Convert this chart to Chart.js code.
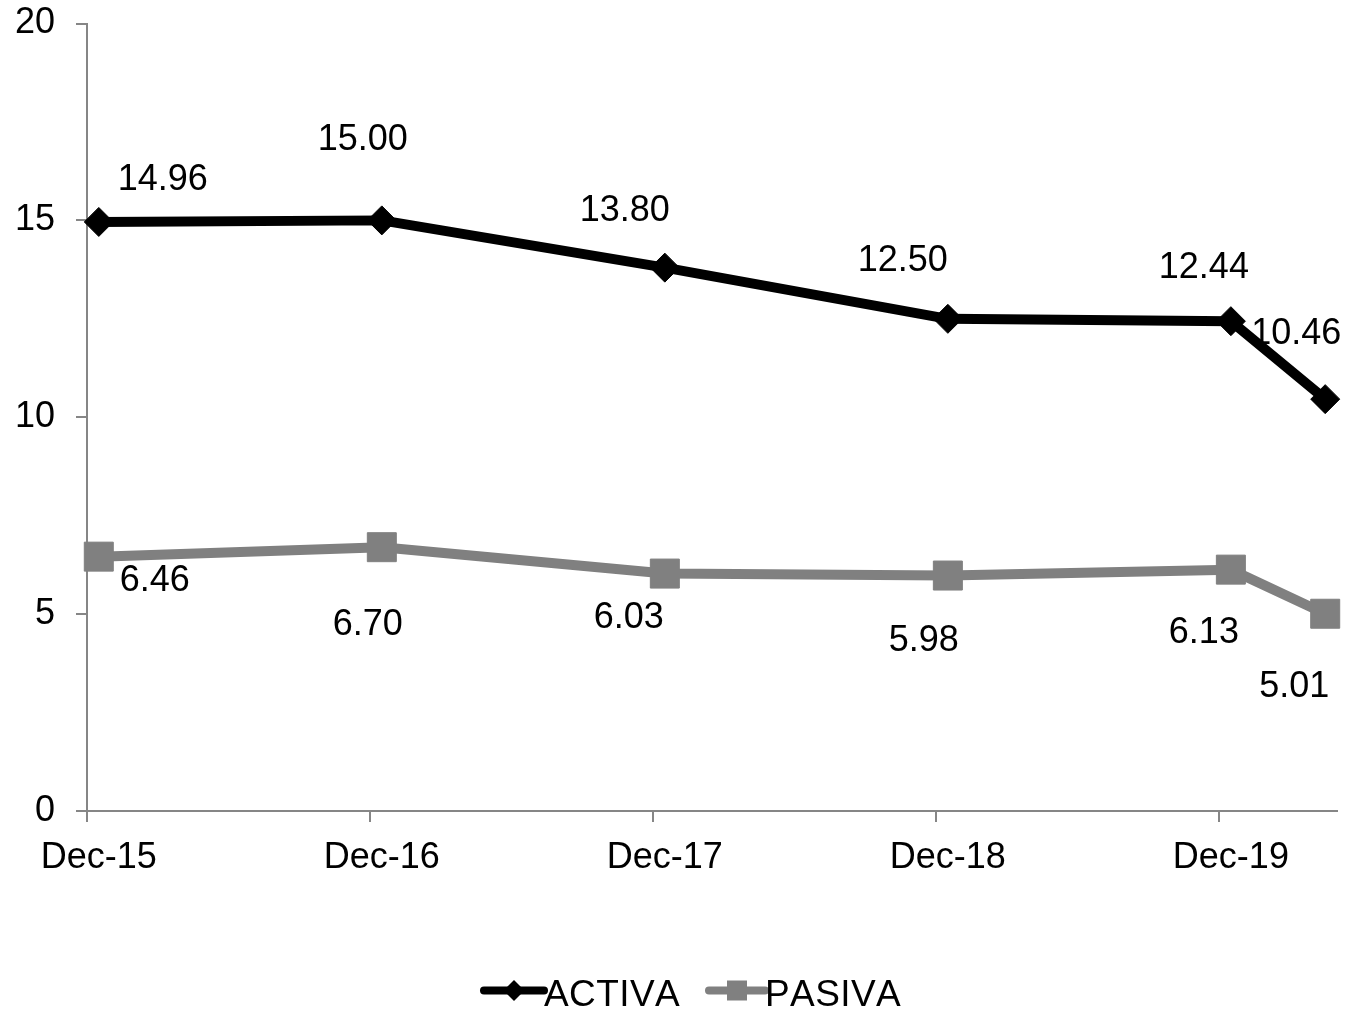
<!DOCTYPE html>
<html>
<head>
<meta charset="utf-8">
<title>ACTIVA / PASIVA</title>
<script src="https://cdn.jsdelivr.net/npm/chart.js@4/dist/chart.umd.min.js"></script>
<style>
  html, body { margin: 0; padding: 0; background: #ffffff; }
  #wrap { width: 1348px; height: 1011px; }
</style>
</head>
<body>
<div id="wrap"><canvas id="chart" width="1348" height="1011"></canvas></div>
<script>
// Observation dates (month-year) and rates
const categories = ['Dec-15', 'Dec-16', 'Dec-17', 'Dec-18', 'Dec-19', 'Apr-20'];
const activa = [14.96, 15.00, 13.80, 12.50, 12.44, 10.46];
const pasiva = [6.46, 6.70, 6.03, 5.98, 6.13, 5.01];
const axisTickLabels = ['Dec-15', 'Dec-16', 'Dec-17', 'Dec-18', 'Dec-19'];
const yTicks = [0, 5, 10, 15, 20];
const seriesNames = ['ACTIVA', 'PASIVA'];

// Value label placement (label centre relative to its point, px)
const activaLabelOffsets = [[64, -45], [-19, -83], [-40, -60], [-45, -61], [-27, -56], [-29, -68]];
const pasivaLabelOffsets = [[56, 21], [-14, 75], [-36, 41], [-24, 62], [-27, 60], [-31, 70]];

const FONT = '"Liberation Sans", Arial, sans-serif';
const AXIS_GREY = '#868686';
const PASIVA_GREY = '#808080';

const MONTHS = ['Jan','Feb','Mar','Apr','May','Jun','Jul','Aug','Sep','Oct','Nov','Dec'];
// months elapsed since Dec-15
function monthIndex(label) {
  const [m, yy] = label.split('-');
  return (parseInt(yy, 10) - 15) * 12 + MONTHS.indexOf(m) - 11;
}
const tickMonths = axisTickLabels.map(monthIndex);
const xMax = monthIndex(categories[categories.length - 1]) + 1;
// each value sits in the middle of its month
const toPoints = vals => vals.map((v, i) => ({ x: monthIndex(categories[i]) + 0.5, y: v }));

const valueLabels = {
  id: 'valueLabels',
  afterDatasetsDraw(chart) {
    const ctx = chart.ctx;
    const offsets = [activaLabelOffsets, pasivaLabelOffsets];
    ctx.save();
    ctx.font = '36px ' + FONT;
    ctx.fillStyle = '#000';
    ctx.textAlign = 'center';
    ctx.textBaseline = 'alphabetic';
    chart.data.datasets.forEach((ds, di) => {
      const meta = chart.getDatasetMeta(di);
      meta.data.forEach((pt, i) => {
        const txt = ds.data[i].y.toFixed(2);
        const m = ctx.measureText(txt);
        const [dx, dy] = offsets[di][i];
        const cy = pt.y + dy;
        const base = cy + (m.actualBoundingBoxAscent - m.actualBoundingBoxDescent) / 2;
        ctx.fillText(txt, pt.x + dx, base);
      });
    });
    ctx.restore();
  }
};

function drawDiamond(ctx, x, y, r) {
  ctx.beginPath();
  ctx.moveTo(x - r, y); ctx.lineTo(x, y - r); ctx.lineTo(x + r, y); ctx.lineTo(x, y + r);
  ctx.closePath(); ctx.fill();
}
function drawSquare(ctx, x, y, half) {
  ctx.fillRect(x - half, y - half, half * 2, half * 2);
}

const bottomLegend = {
  id: 'bottomLegend',
  afterDraw(chart) {
    const ctx = chart.ctx;
    const items = [
      { x0: 484, x1: 544, color: '#000', marker: 'diamond', textX: 544 },
      { x0: 709, x1: 765, color: PASIVA_GREY, marker: 'square', textX: 765 }
    ];
    const ly = 990.5;
    ctx.save();
    items.forEach((it, i) => {
      ctx.strokeStyle = it.color;
      ctx.fillStyle = it.color;
      ctx.lineWidth = 8;
      ctx.lineCap = 'round';
      ctx.beginPath();
      ctx.moveTo(it.x0, ly); ctx.lineTo(it.x1, ly);
      ctx.stroke();
      const mx = (it.x0 + it.x1) / 2;
      if (it.marker === 'diamond') drawDiamond(ctx, mx, ly, 10.5);
      else drawSquare(ctx, mx, ly, 10);
      ctx.font = '37px ' + FONT;
      ctx.fontKerning = 'none';
      if ('letterSpacing' in ctx) ctx.letterSpacing = '0.4px';
      ctx.fillStyle = '#000';
      ctx.textAlign = 'left';
      ctx.textBaseline = 'alphabetic';
      const m = ctx.measureText(seriesNames[i]);
      const base = 993 + (m.actualBoundingBoxAscent - m.actualBoundingBoxDescent) / 2;
      ctx.fillText(seriesNames[i], it.textX, base);
    });
    ctx.restore();
  }
};

new Chart(document.getElementById('chart'), {
  type: 'line',
  data: {
    datasets: [
      {
        label: seriesNames[0],
        data: toPoints(activa),
        borderColor: '#000',
        backgroundColor: '#000',
        borderWidth: 10,
        borderJoinStyle: 'round',
        pointStyle: 'rectRot',
        pointRadius: 14.5,
        pointBorderWidth: 1,
        pointBackgroundColor: '#000',
        pointBorderColor: '#000',
        tension: 0,
        clip: false
      },
      {
        label: seriesNames[1],
        data: toPoints(pasiva),
        borderColor: PASIVA_GREY,
        backgroundColor: PASIVA_GREY,
        borderWidth: 10,
        borderJoinStyle: 'round',
        pointStyle: 'rect',
        pointRadius: 20.5,
        pointBorderWidth: 1,
        pointBackgroundColor: PASIVA_GREY,
        pointBorderColor: PASIVA_GREY,
        tension: 0,
        clip: false
      }
    ]
  },
  options: {
    responsive: false,
    animation: false,
    events: [],
    layout: { autoPadding: false, padding: { left: 0, right: 11, top: 23.5, bottom: 120 } },
    plugins: {
      legend: { display: false },
      tooltip: { enabled: false }
    },
    scales: {
      x: {
        type: 'linear',
        min: 0,
        max: xMax,
        afterBuildTicks(scale) {
          scale.ticks = tickMonths.map(v => ({ value: v }));
        },
        afterFit(scale) {
          scale.height = 80;
          scale.paddingLeft = 0;
          scale.paddingRight = 0;
        },
        ticks: {
          autoSkip: false,
          maxRotation: 0,
          labelOffset: 11.8,
          padding: 14,
          color: '#000',
          font: { family: FONT, size: 36 },
          callback(value) {
            const i = tickMonths.indexOf(value);
            return i >= 0 ? axisTickLabels[i] : '';
          }
        },
        grid: {
          drawOnChartArea: false,
          drawTicks: true,
          tickLength: 11,
          color: AXIS_GREY,
          lineWidth: 2
        },
        border: { display: true, color: AXIS_GREY, width: 2 }
      },
      y: {
        min: yTicks[0],
        max: yTicks[yTicks.length - 1],
        afterBuildTicks(scale) {
          scale.ticks = yTicks.map(v => ({ value: v }));
        },
        afterFit(scale) {
          scale.width = 87;
          scale.paddingTop = 0;
          scale.paddingBottom = 0;
        },
        ticks: {
          padding: 21,
          color: '#000',
          font: { family: FONT, size: 36 }
        },
        grid: {
          drawOnChartArea: false,
          drawTicks: true,
          tickLength: 11,
          color: AXIS_GREY,
          lineWidth: 2
        },
        border: { display: true, color: AXIS_GREY, width: 2 }
      }
    }
  },
  plugins: [valueLabels, bottomLegend]
});
</script>
</body>
</html>
